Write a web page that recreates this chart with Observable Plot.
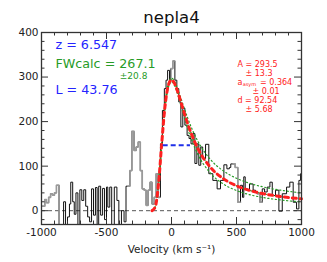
<!DOCTYPE html>
<html><head><meta charset="utf-8">
<script src="https://cdn.jsdelivr.net/npm/d3@7"></script>
<script src="https://cdn.jsdelivr.net/npm/@observablehq/plot@0.6"></script>
<style>body{margin:0;background:#fff}</style>
</head><body><div id="chart"></div>
<script>
// Spectrum (step start velocity, flux)
const specVel = [-1000,-975,-962,-945,-930,-915,-900,-885,-865,-850,-830,-815,-800,-785,-775,-760,-748,-735,-720,-705,-690,-675,-660,-645,-630,-615,-600,-585,-572,-560,-545,-530,-515,-500,-490,-475,-460,-440,-420,-405,-385,-365,-350,-335,-320,-305,-288,-272,-256,-240,-225,-210,-195,-180,-165,-150,-133,-118,-103,-85,-70,-55,-42,-30,-15,-5,10,26,41,56,72,87,103,120,135,150,165,180,195,210,225,240,262,287,318,351,377,403,426,445,456,474,490,510,531,546,556,567,585,600,628,646,659,680,698,716,736,757,775,800,826,852,885,910,936,962,980,993];
const specFlux = [10,25,18,30,38,35,40,57,-35,-35,20,-35,-14,15,64,20,-8,40,-35,47,23,47,10,-14,-25,49,-10,52,-35,55,-10,50,-20,53,8,53,-35,53,23,-35,0,-25,55,55,90,178,135,143,154,90,49,46,12,46,64,15,30,83,30,150,225,274,293,315,293,319,336,293,274,244,188,230,192,169,162,150,173,106,150,102,143,117,149,83,68,49,68,103,94,97,105,105,97,19,57,30,76,49,46,60,46,42,38,19,49,42,53,64,34,46,-1,38,53,64,19,4,68,83];
const specEnd = 1000;
const greyRanges = [[-1000,-860],[-340,-90],[-5,26],[474,531],[659,698]];

// Fit curves (asymmetric Gaussian and its error envelope)
const fitVel   = [-150,-125,-100,-75,-50,-25,0,25,50,75,100,150,200,300,400,500,600,700,800,900,1000];
const fitRed   = [0.1,8.6,60.1,151.6,234.1,280.6,293.5,284.8,265.1,241.3,217.3,174.6,141.2,97.1,71.6,55.9,45.6,38.5,33.4,29.6,26.6];
const fitUpper = [0.1,9.1,65.2,160.1,241.6,285.7,297.7,289.7,271.9,250.2,228.2,188.8,157.5,114.8,89.1,72.7,61.6,53.7,47.9,43.5,40];
const fitLower = [0.1,6.8,52.5,141.2,226,275.3,289.3,279.8,258.4,232.8,207.1,162.2,127.9,84.1,59.7,45.2,36,29.8,25.4,22.1,19.7];
const halfMaxX = [-64, 146];
const halfMaxY = 146.75;

const xMajor = [-1000,-500,0,500,1000];
const xMinor = [-900,-800,-700,-600,-400,-300,-200,-100,100,200,300,400,600,700,800,900];
const yMajor = [0,100,200,300,400];
const yMinor = [-20,20,40,60,80,120,140,160,180,220,240,260,280,320,340,360,380];

const W = 327, H = 262, mL = 41, mR = 26, mT = 32, mB = 38;
const fw = W - mL - mR, fh = H - mT - mB;

const spec = specVel.map((v, i) => ({v, f: specFlux[i]}));
spec.push({v: specEnd, f: specFlux[specFlux.length - 1]});
const greySeg = [];
greyRanges.forEach(([a, b], k) => {
  const pts = spec.filter(d => d.v >= a && d.v < b);
  let last = null;
  for (const d of spec) if (d.v < b) last = d;
  pts.forEach(d => greySeg.push({v: d.v, f: d.f, k}));
  greySeg.push({v: b, f: last.f, k});
});
const mk = arr => fitVel.map((v, i) => ({v, f: arr[i]}));

const axisCol = "#333";
const blue = "#2424ff", green = "#279b27", red = "#ff2020";
const left = (txt, dx, dy, fill, fs) => Plot.text([txt], {frameAnchor: "top-left", text: d => d, dx, dy, textAnchor: "start", lineAnchor: "middle", fill, fontSize: fs});

const plot = Plot.plot({
  width: W, height: H,
  marginLeft: mL, marginRight: mR, marginTop: mT, marginBottom: mB,
  style: {fontFamily: "DejaVu Sans", background: "#fff"},
  x: {domain: [-1000, 1000]},
  y: {domain: [-31, 400]},
  marks: [
    Plot.ruleY([0], {stroke: "#555", strokeDasharray: "4,3", strokeWidth: 1}),
    Plot.line(spec, {x: "v", y: "f", curve: "step-after", stroke: "#111", strokeWidth: 1, clip: true}),
    Plot.line(greySeg, {x: "v", y: "f", z: "k", curve: "step-after", stroke: "#9a9a9a", strokeWidth: 1.6, clip: true}),
    Plot.line(mk(fitUpper), {x: "v", y: "f", curve: "monotone-x", stroke: green, strokeWidth: 1.2, strokeDasharray: "1.2,2.6"}),
    Plot.line(mk(fitLower), {x: "v", y: "f", curve: "monotone-x", stroke: green, strokeWidth: 1.2, strokeDasharray: "1.2,2.6"}),
    Plot.line(mk(fitRed), {x: "v", y: "f", curve: "monotone-x", stroke: green, strokeWidth: 1.2, strokeDasharray: "1.2,2.6"}),
    Plot.line(mk(fitRed), {x: "v", y: "f", curve: "monotone-x", stroke: red, strokeWidth: 3, strokeDasharray: "4,4"}),
    Plot.ruleY([halfMaxY], {x1: halfMaxX[0], x2: halfMaxX[1], stroke: "#1f2fe8", strokeWidth: 2, strokeDasharray: "5,3"}),
    Plot.frame({stroke: axisCol, strokeWidth: 1.3}),
    Plot.tickX(xMajor, {x: d => d, insetTop: fh - 7, stroke: axisCol}),
    Plot.tickX(xMajor, {x: d => d, insetBottom: fh - 7, stroke: axisCol}),
    Plot.tickX(xMinor, {x: d => d, insetTop: fh - 3.5, stroke: axisCol}),
    Plot.tickX(xMinor, {x: d => d, insetBottom: fh - 3.5, stroke: axisCol}),
    Plot.tickY(yMajor, {y: d => d, insetRight: fw - 7, stroke: axisCol}),
    Plot.tickY(yMajor, {y: d => d, insetLeft: fw - 7, stroke: axisCol}),
    Plot.tickY(yMinor, {y: d => d, insetRight: fw - 3.5, stroke: axisCol}),
    Plot.tickY(yMinor, {y: d => d, insetLeft: fw - 3.5, stroke: axisCol}),
    Plot.axisX(xMajor, {tickSize: 0, tickPadding: 4, tickFormat: d => String(d), fontSize: 10.5, label: null, fill: "#222"}),
    Plot.axisY(yMajor, {tickSize: 0, tickPadding: 3, tickFormat: d => String(d), fontSize: 10.5, label: null, fill: "#222"}),
    Plot.text(["Velocity (km s⁻¹)"], {frameAnchor: "bottom", text: d => d, dy: 25, lineAnchor: "middle", fontSize: 10.5, fill: "#222"}),
    Plot.text(["nepla4"], {frameAnchor: "top", text: d => d, dy: -14.3, lineAnchor: "middle", fontSize: 16.5, fill: "#111"}),
    left("z = 6.547", 14, 12.2, blue, 12.7),
    left("FWcalc = 267.1", 14, 31.6, green, 12.7),
    left("±20.8", 78.3, 43.4, green, 9),
    left("L = 43.76", 14, 57.3, blue, 12.7),
    left("A = 293.5", 196, 31.5, red, 8),
    left("± 13.3", 204, 40.5, red, 8),
    left("a", 196, 49.5, red, 8),
    left("asym", 201.2, 51.5, red, 5),
    left("= 0.364", 218.5, 49.5, red, 8),
    left("± 0.01", 211, 58.5, red, 8),
    left("d = 92.54", 196, 67.5, red, 8),
    left("± 5.68", 204, 76.5, red, 8)
  ]
});
document.getElementById("chart").appendChild(plot);
</script>
</body></html>
